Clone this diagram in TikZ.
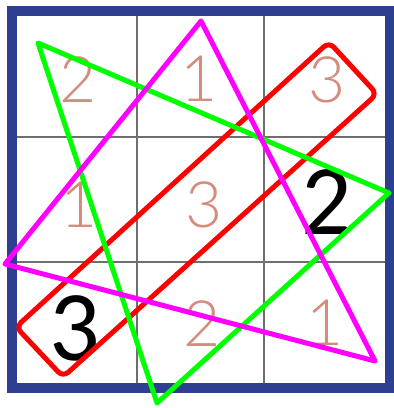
\documentclass[tikz,border=0pt]{standalone}
\usepackage{fontspec}
\newfontfamily\bigfont{Carlito}
\newfontfamily\handfont{Lato Light}
\definecolor{frameblue}{RGB}{46,62,145}
\definecolor{gridgray}{RGB}{110,110,110}
\definecolor{handred}{RGB}{212,140,125}
\definecolor{tgreen}{RGB}{0,255,0}
\definecolor{tmagenta}{RGB}{255,0,255}
\definecolor{tred}{RGB}{255,0,0}
\tikzset{
  hand/.style={text=handred, font=\handfont\fontsize{64}{64}\selectfont, inner sep=0pt},
  given/.style={text=black, font=\bigfont\fontsize{100}{100}\selectfont, inner sep=0pt},
  gridline/.style={draw=gridgray, line width=1.8pt},
  shapeline/.style={line width=5pt, line join=round, line cap=round},
}
\begin{document}
\begin{tikzpicture}[x=1pt,y=-1pt]
\useasboundingbox (0,0) rectangle (394,408);
\fill[white] (0,0) rectangle (394,408);
% grid
\draw[gridline] (137,16) -- (137,383);
\draw[gridline] (264,16) -- (264,383);
\draw[gridline] (17,137) -- (386,137);
\draw[gridline] (17,262) -- (386,262);
% digits
\node[hand] (d11) at (78,80) {2};
\node[hand] (d12) at (199,79) {1};
\node[hand] (d13) at (327,80) {3};
\node[hand] (d21) at (79,205) {1};
\node[hand] (d22) at (204,205) {3};
\node[given] (d23) at (327,202) {2};
\node[given] (d31) at (75,328) {3};
\node[hand] (d32) at (202,324) {2};
\node[hand] (d33) at (325,323) {1};
% frame
\draw[frameblue, line width=10pt] (12,10.5) rectangle (390,388);
% shapes
\coordinate (ra) at (329,42);
\coordinate (rb) at (377,94);
\coordinate (rc) at (63,377);
\coordinate (rd) at (16,327);
\draw[shapeline, tred, rounded corners=7pt] (ra) -- (rb) -- (rc) -- (rd) -- cycle;
\coordinate (ga) at (38,43);
\coordinate (gb) at (389,193);
\coordinate (gc) at (157,403);
\draw[shapeline, tgreen] (ga) -- (gb) -- (gc) -- cycle;
\coordinate (ma) at (201,21);
\coordinate (mb) at (5,264);
\coordinate (mc) at (375,361);
\draw[shapeline, tmagenta] (ma) -- (mb) -- (mc) -- cycle;
\end{tikzpicture}
\end{document}
